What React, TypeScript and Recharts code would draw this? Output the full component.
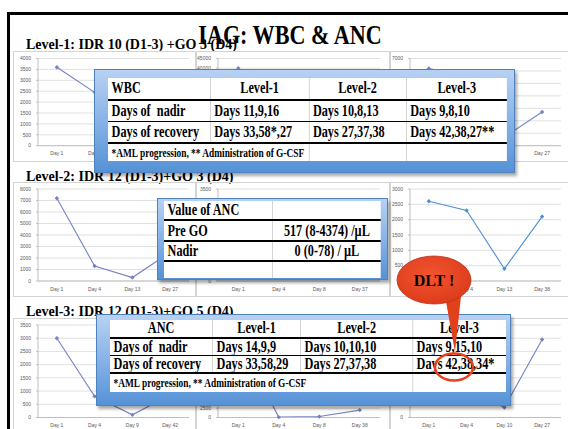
import { LineChart, Line, XAxis, YAxis, CartesianGrid } from "recharts"

const SERIF = '"Liberation Serif", "Times New Roman", serif'
const SANS = '"Liberation Sans", Arial, sans-serif'

// y tick labels
const ticks3000 = [0, 500, 1000, 1500, 2000, 2500, 3000]
const ticks3500 = [0, 500, 1000, 1500, 2000, 2500, 3000, 3500]
const ticks4000 = [0, 500, 1000, 1500, 2000, 2500, 3000, 3500, 4000]
const ticks7000 = [0, 1000, 2000, 3000, 4000, 5000, 6000, 7000]
const ticks8000 = [0, 1000, 2000, 3000, 4000, 5000, 6000, 7000, 8000]
const ticks25000 = [0, 2500, 5000, 7500, 10000, 12500, 15000, 17500, 20000, 22500, 25000]
const ticks45000 = [0, 5000, 10000, 15000, 20000, 25000, 30000, 35000, 40000, 45000]

// Level-1
const lv1aDays = ["Day 1", "Day 4", "Day 11", "Day 33"]
const lv1aVals = [3600, 2450, 350, 1900]
const lv1bDays = ["Day 1", "Day 4", "Day 9", "Day 58"]
const lv1bVals = [40000, 12000, 600, 5500]
const lv1cDays = ["Day 1", "Day 4", "Day 16", "Day 27"]
const lv1cVals = [6200, 5600, 700, 2700]

// Level-2
const lv2aDays = ["Day 1", "Day 4", "Day 13", "Day 27"]
const lv2aVals = [7200, 1300, 300, 2500]
const lv2bDays = ["Day 1", "Day 4", "Day 8", "Day 37"]
const lv2bVals = [2400, 500, 300, 1600]
const lv2cDays = ["Day 1", "Day 4", "Day 13", "Day 38"]
const lv2cVals = [2600, 2300, 400, 2100]

// Level-3
const lv3aDays = ["Day 1", "Day 4", "Day 9", "Day 42"]
const lv3aVals = [3000, 800, 100, 850]
const lv3bDays = ["Day 1", "Day 4", "Day 8", "Day 38"]
const lv3bVals = [21000, 100, 250, 2000]
const lv3cDays = ["Day 1", "Day 4", "Day 10", "Day 27"]
const lv3cVals = [1400, 1100, 380, 2950]

// table texts
const wbcHead = ["WBC", "Level-1", "Level-2", "Level-3"]
const wbcNadir = ["Days of  nadir", "Days 11,9,16", "Days 10,8,13", "Days 9,8,10"]
const wbcRecovery = ["Days of recovery", "Days 33,58*,27", "Days 27,37,38", "Days 42,38,27**"]
const ancHead = ["ANC", "Level-1", "Level-2", "Level-3"]
const ancNadir = ["Days of  nadir", "Days 14,9,9", "Days 10,10,10", "Days 9,15,10"]
const ancRecovery = ["Days of recovery", "Days 33,58,29", "Days 27,37,38", "Days 42,38,34*"]
const footnote = "*AML progression, ** Administration of G-CSF"
const ancValueRows = [
  ["Value of ANC", ""],
  ["Pre GO", "517 (8-4374) /\u00b5L"],
  ["Nadir", "0 (0-78) / \u00b5L"],
  ["", ""],
]

const PURPLE = "#7582c4"
const BLUE = "#4f8fd4"

const COLS = [
  { left: 13, right: 196, plotL: 38, plotR: 189 },
  { left: 196, right: 390, plotL: 218, plotR: 380 },
  { left: 390, right: 580, plotL: 410, plotR: 561 },
]
const ROWS = [
  { top: 51, bottom: 162, plotT: 58.5, plotB: 145.7 },
  { top: 182, bottom: 297, plotT: 189, plotB: 281 },
  { top: 318, bottom: 440, plotT: 325, plotB: 417.5 },
]

const panels = [
  { r: 0, c: 0, days: lv1aDays, vals: lv1aVals, ticks: ticks4000, color: PURPLE },
  { r: 0, c: 1, days: lv1bDays, vals: lv1bVals, ticks: ticks45000, color: PURPLE },
  { r: 0, c: 2, days: lv1cDays, vals: lv1cVals, ticks: ticks7000, color: PURPLE },
  { r: 1, c: 0, days: lv2aDays, vals: lv2aVals, ticks: ticks8000, color: PURPLE },
  { r: 1, c: 1, days: lv2bDays, vals: lv2bVals, ticks: ticks3500, color: PURPLE },
  { r: 1, c: 2, days: lv2cDays, vals: lv2cVals, ticks: ticks3000, color: BLUE },
  { r: 2, c: 0, days: lv3aDays, vals: lv3aVals, ticks: ticks3500, color: PURPLE },
  { r: 2, c: 1, days: lv3bDays, vals: lv3bVals, ticks: ticks25000, color: PURPLE },
  { r: 2, c: 2, days: lv3cDays, vals: lv3cVals, ticks: ticks3500, color: PURPLE },
]

function Diamond(props: any) {
  const { cx, cy, stroke } = props
  if (cx == null || cy == null) return null
  const s = 2.2
  return <path d={`M${cx},${cy - s}L${cx + s},${cy}L${cx},${cy + s}L${cx - s},${cy}Z`} fill={stroke} />
}

const tickStyle = { fontSize: 5, fill: "#595959", fontFamily: SANS }

function MiniChart({ p }: { p: (typeof panels)[number] }) {
  const col = COLS[p.c]
  const row = ROWS[p.r]
  const w = col.right - col.left
  const h = row.bottom - row.top
  const pad = (col.plotR - col.plotL) / 8
  const data = p.days.map((d, i) => ({ day: d, v: p.vals[i] }))
  return (
    <>
      <div
        style={{
          position: "absolute",
          left: col.left,
          top: row.top,
          width: w,
          height: h,
          border: "1px solid #d4d4d4",
          boxSizing: "border-box",
        }}
      />
      <div style={{ position: "absolute", left: col.left, top: row.top }}>
        <LineChart
          width={w}
          height={h}
          data={data}
          margin={{ top: row.plotT - row.top, right: col.right - col.plotR, bottom: 0, left: 0 }}
        >
          <CartesianGrid vertical={false} stroke="#d9d9d9" strokeWidth={0.8} />
          <XAxis
            dataKey="day"
            interval={0}
            height={row.bottom - row.plotB}
            padding={{ left: pad, right: pad }}
            tick={tickStyle}
            tickLine={false}
            tickSize={3}
            tickMargin={3}
            axisLine={{ stroke: "#bfbfbf" }}
          />
          <YAxis
            type="number"
            domain={[0, p.ticks[p.ticks.length - 1]]}
            ticks={p.ticks}
            interval={0}
            width={col.plotL - col.left}
            tick={tickStyle}
            tickSize={2}
            tickMargin={5}
            tickLine={{ stroke: "#bfbfbf" }}
            axisLine={{ stroke: "#bfbfbf" }}
          />
          <Line
            type="linear"
            dataKey="v"
            stroke={p.color}
            strokeWidth={1.1}
            dot={<Diamond />}
            isAnimationActive={false}
          />
        </LineChart>
      </div>
    </>
  )
}

// the slide's serif text is drawn narrow
const SX = 0.72

type RowSpec = { h: number; cells: string[]; widths: number[]; align: ("left" | "center")[]; bottom: number; size?: number }

function CondensedTable({ left, top, width, rows }: { left: number; top: number; width: number; rows: RowSpec[] }) {
  return (
    <div
      style={{
        position: "absolute",
        left,
        top,
        width: width / SX,
        transform: `scaleX(${SX})`,
        transformOrigin: "0 0",
        background: "#fff",
        fontFamily: SERIF,
        fontWeight: "bold",
        color: "#000",
      }}
    >
      {rows.map((r, ri) => (
        <div
          key={ri}
          style={{
            display: "flex",
            height: r.h + r.bottom,
            borderBottom: r.bottom ? `${r.bottom}px solid #000` : "none",
            boxSizing: "border-box",
          }}
        >
          {r.cells.map((t, ci) => (
            <div
              key={ci}
              style={{
                width: r.widths[ci] / SX,
                flex: "none",
                boxSizing: "border-box",
                borderRight: ci < r.cells.length - 1 ? "1px solid #c4c4c4" : "none",
                textAlign: r.align[ci],
                padding: "0 5px",
                fontSize: r.size || 17,
                lineHeight: `${r.h}px`,
                whiteSpace: "pre",
                overflow: "visible",
              }}
            >
              {t}
            </div>
          ))}
        </div>
      ))}
    </div>
  )
}

function BlueBox({ left, top, right, bottom }: { left: number; top: number; right: number; bottom: number }) {
  return (
    <div
      style={{
        position: "absolute",
        left,
        top,
        width: right - left,
        height: bottom - top,
        boxSizing: "border-box",
        border: "1px solid #4f81bd",
        background: "linear-gradient(180deg, #b7d1f3 0%, #8cb6e8 45%, #5592d6 100%)",
        boxShadow: "2px 3px 3px rgba(0,0,0,0.35)",
      }}
    />
  )
}

const wbcW = [102.7, 98.6, 97.4, 100.3]
const ancW = [103, 88, 112, 93]
const LCCC: ("left" | "center")[] = ["left", "center", "center", "center"]
const LLLL: ("left" | "center")[] = ["left", "left", "left", "left"]

function Label({ top, text }: { top: number; text: string }) {
  return (
    <div
      style={{
        position: "absolute",
        left: 26,
        top,
        fontFamily: SERIF,
        fontWeight: "bold",
        fontSize: 14,
        lineHeight: "14px",
        whiteSpace: "pre",
        color: "#000",
      }}
    >
      {text}
    </div>
  )
}

export default function App() {
  return (
    <div style={{ position: "fixed", left: 0, top: 0, width: 568, height: 429, overflow: "hidden", background: "#fff" }}>
      <div
        style={{
          position: "absolute",
          left: 7,
          top: 12,
          width: 640,
          height: 520,
          borderLeft: "3px solid #000",
          borderTop: "3px solid #000",
        }}
      />
      <Label top={37.5} text="Level-1: IDR 10 (D1-3) +GO 3 (D4)" />
      <Label top={169.5} text="Level-2: IDR 12 (D1-3)+GO 3 (D4)" />
      <Label top={304.5} text="Level-3: IDR 12 (D1-3)+GO 5 (D4)" />
      <div
        style={{
          position: "absolute",
          left: 290,
          top: 21,
          transform: "translateX(-50%) scaleX(0.79)",
          whiteSpace: "pre",
          fontFamily: SERIF,
          fontWeight: "bold",
          fontSize: 28,
          lineHeight: "28px",
          color: "#000",
        }}
      >
        IAG: WBC &amp; ANC
      </div>

      {panels.map((p, i) => (
        <MiniChart key={i} p={p} />
      ))}

      <BlueBox left={94} top={69} right={515} bottom={173} />
      <CondensedTable
        left={108}
        top={78}
        width={399}
        rows={[
          { h: 20, cells: wbcHead, widths: wbcW, align: LCCC, bottom: 2.5 },
          { h: 20, cells: wbcNadir, widths: wbcW, align: LLLL, bottom: 1.5 },
          { h: 19, cells: wbcRecovery, widths: wbcW, align: LLLL, bottom: 2.5 },
          {
            h: 17,
            cells: [footnote, "", ""],
            widths: [wbcW[0] + wbcW[1], wbcW[2], wbcW[3]],
            align: LLLL,
            bottom: 0,
            size: 13,
          },
        ]}
      />

      <BlueBox left={157} top={198} right={388} bottom={280} />
      <CondensedTable
        left={164}
        top={201}
        width={217}
        rows={ancValueRows.map((cells, i) => ({
          h: i === 1 ? 19 : i === 3 ? 16 : 17,
          cells,
          widths: [108.7, 108.3],
          align: ["left", "center"] as ("left" | "center")[],
          bottom: i < 3 ? 2.5 : 0,
        }))}
      />

      <BlueBox left={96} top={314} right={511} bottom={406} />
      <CondensedTable
        left={110}
        top={320}
        width={396}
        rows={[
          { h: 16, cells: ancHead, widths: ancW, align: ["center", "center", "center", "center"], bottom: 2.5 },
          { h: 16, cells: ancNadir, widths: ancW, align: LLLL, bottom: 1.5 },
          { h: 15, cells: ancRecovery, widths: ancW, align: LLLL, bottom: 2.5 },
          {
            h: 18,
            cells: [footnote, ""],
            widths: [ancW[0] + ancW[1] + ancW[2], ancW[3]],
            align: LLLL,
            bottom: 0,
            size: 13,
          },
        ]}
      />

      <svg width={568} height={429} style={{ position: "absolute", left: 0, top: 0 }}>
        <defs>
          <radialGradient id="dltFill" cx="45%" cy="40%" r="65%">
            <stop offset="0" stopColor="#f2552e" />
            <stop offset="1" stopColor="#dc3a1b" />
          </radialGradient>
        </defs>
        <polygon points="445,296 461,296 455,352" fill="#e2401d" />
        <ellipse cx={434} cy={280} rx={37} ry={24} fill="url(#dltFill)" stroke="#b8321a" strokeWidth={0.8} />
        <text x={434} y={286} textAnchor="middle" fontFamily={SERIF} fontWeight="bold" fontSize={16} fill="#000">
          DLT !
        </text>
        <ellipse cx={454} cy={367} rx={19} ry={13.5} fill="none" stroke="#e8401c" strokeWidth={2.5} />
      </svg>
    </div>
  )
}
